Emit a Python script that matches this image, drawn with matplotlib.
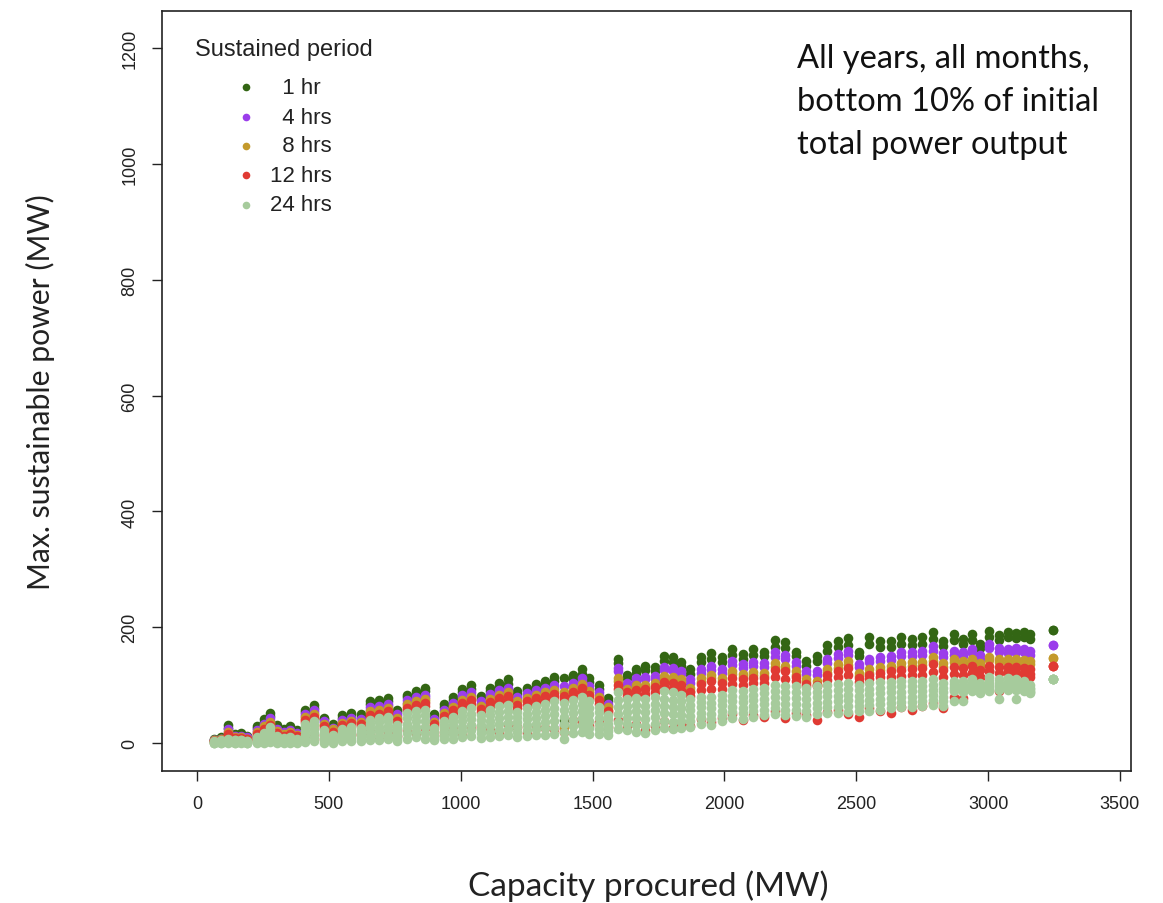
import matplotlib
matplotlib.use("Agg")
import matplotlib.pyplot as plt
from matplotlib.lines import Line2D

# capacity procured (MW), one column of points per value
capacity = [65, 90, 118, 142, 166, 190,
            228, 253, 278, 303, 328, 353, 378,
            410, 445, 480, 515, 550, 585, 620, 655, 690, 725, 760, 795, 830, 865, 900, 935,
            970, 1005, 1040, 1075, 1110, 1145, 1180, 1215, 1250, 1285, 1320, 1355, 1390, 1425, 1460, 1485,
            1525, 1560, 1595, 1630, 1665, 1700, 1735, 1770, 1805, 1835,
            1870, 1910, 1950, 1990, 2030, 2070, 2110, 2150, 2190, 2230, 2270, 2310, 2350, 2390,
            2430, 2470, 2510, 2550, 2590, 2630, 2670, 2710, 2750, 2790, 2830,
            2870, 2905, 2940, 2968,
            3005, 3040, 3075, 3105, 3135, 3160,
            3246]

# max sustainable power (MW), several rows of points per sustained period
hr1_hi = [8, 10, 32, 16, 17, 13,
          30, 41, 52, 31, 24, 29, 22,
          58, 66, 44, 33, 48, 52, 50, 72, 74, 78, 58, 84, 90, 96, 50, 68,
          80, 94, 100, 82, 96, 104, 110, 90, 96, 103, 108, 114, 112, 118, 128, 112,
          100, 78, 146, 118, 128, 134, 132, 150, 148, 140,
          128, 148, 155, 148, 162, 154, 162, 158, 178, 175, 158, 142, 150, 170,
          176, 182, 158, 183, 176, 176, 183, 180, 183, 192, 176,
          188, 180, 188, 172,
          194, 186, 192, 190, 192, 188,
          195]
hr1_lo = [6, 8, 27, 13, 14, 11,
          26, 37, 47, 27, 21, 25, 19,
          54, 61, 41, 30, 44, 48, 46, 67, 69, 73, 54, 79, 85, 90, 46, 63,
          75, 88, 94, 77, 90, 98, 103, 85, 91, 97, 102, 107, 40, 111, 120, 105,
          94, 72, 138, 112, 121, 126, 124, 142, 140, 133,
          120, 140, 146, 140, 152, 146, 152, 150, 166, 164, 150, 134, 142, 160,
          166, 170, 150, 172, 166, 166, 172, 170, 172, 180, 168,
          178, 172, 178, 165,
          184, 178, 184, 182, 184, 180,
          195]
hr4_hi = [6, 8, 24, 12, 13, 10,
          23, 34, 43, 24, 19, 23, 17,
          50, 57, 38, 27, 40, 44, 42, 62, 64, 68, 50, 74, 80, 84, 42, 58,
          70, 83, 88, 72, 85, 92, 96, 80, 86, 92, 96, 100, 98, 104, 112, 98,
          88, 68, 130, 104, 112, 115, 116, 132, 130, 125,
          110, 128, 134, 128, 142, 136, 140, 138, 157, 152, 140, 125, 124, 145,
          154, 160, 137, 145, 148, 150, 157, 158, 159, 168, 156,
          160, 157, 162, 152,
          171, 164, 162, 165, 163, 159,
          170]
hr4_lo = [5, 7, 20, 10, 11, 9,
          20, 30, 39, 21, 17, 20, 15,
          47, 54, 36, 25, 37, 41, 39, 58, 60, 64, 47, 70, 76, 80, 39, 55,
          66, 79, 84, 68, 81, 88, 92, 76, 82, 88, 92, 95, 32, 99, 107, 94,
          84, 64, 124, 99, 107, 110, 111, 126, 124, 119,
          104, 121, 127, 122, 135, 129, 133, 131, 149, 145, 133, 119, 118, 138,
          147, 152, 131, 140, 142, 143, 150, 151, 152, 160, 149,
          153, 150, 155, 146,
          164, 158, 156, 158, 157, 153,
          170]
hr8_hi = [5, 7, 19, 10, 11, 8,
          19, 29, 37, 21, 16, 19, 14,
          45, 51, 34, 24, 35, 39, 37, 55, 57, 61, 44, 67, 72, 76, 37, 52,
          63, 75, 80, 65, 77, 84, 88, 72, 78, 84, 88, 91, 89, 95, 102, 90,
          80, 62, 112, 94, 100, 100, 104, 116, 114, 110,
          96, 112, 118, 113, 125, 120, 123, 122, 138, 134, 124, 110, 108, 128,
          136, 142, 122, 128, 132, 134, 138, 140, 141, 149, 138,
          146, 142, 146, 138,
          149, 146, 145, 146, 144, 142,
          147]
hr8_lo = [4, 6, 16, 8, 9, 7,
          16, 25, 33, 18, 14, 17, 12,
          42, 48, 32, 22, 33, 37, 35, 52, 54, 58, 41, 64, 69, 73, 35, 49,
          60, 72, 77, 62, 74, 81, 84, 69, 75, 81, 84, 88, 28, 91, 98, 87,
          76, 58, 107, 90, 96, 96, 99, 111, 109, 105,
          90, 106, 112, 107, 119, 114, 117, 116, 131, 128, 118, 105, 103, 122,
          130, 135, 116, 122, 126, 128, 132, 134, 135, 142, 132,
          140, 136, 140, 132,
          143, 140, 139, 140, 138, 136,
          147]
hr12_hi = [4, 6, 16, 9, 9, 7,
           16, 25, 32, 18, 13, 16, 12,
           40, 46, 30, 20, 31, 35, 33, 49, 51, 55, 39, 61, 66, 70, 33, 47,
           57, 69, 74, 59, 71, 78, 81, 66, 72, 78, 81, 85, 82, 88, 95, 84,
           74, 56, 100, 88, 92, 93, 97, 106, 104, 100,
           88, 103, 108, 104, 112, 110, 113, 112, 127, 124, 114, 102, 100, 118,
           125, 130, 112, 118, 122, 124, 126, 128, 129, 136, 126,
           132, 130, 133, 126,
           134, 132, 131, 132, 130, 128,
           133]
hr12_mid = [3, 5, 12, 7, 7, 5,
            12, 20, 28, 14, 10, 13, 9,
            37, 42, 26, 17, 28, 31, 30, 45, 48, 51, 36, 57, 61, 64, 30, 43,
            52, 63, 67, 54, 65, 71, 74, 60, 66, 71, 75, 79, 76, 81, 88, 78,
            68, 52, 94, 82, 85, 85, 89, 98, 96, 92,
            82, 92, 94, 94, 102, 100, 104, 104, 114, 111, 107, 99, 99, 109,
            114, 117, 106, 111, 114, 115, 116, 118, 118, 123, 115,
            120, 118, 122, 115,
            124, 121, 122, 121, 119, 114,
            133]
hr12_lo = [2, 3, 8, 4, 5, 3,
           8, 12, 18, 9, 6, 8, 5,
           10, 14, 8, 6, 12, 16, 14, 20, 10, 18, 12, 22, 18, 26, 14, 20,
           24, 18, 30, 26, 22, 20, 34, 28, 18, 30, 26, 24, 20, 40, 36, 30,
           36, 28, 40, 30, 34, 22, 30, 38, 26, 34,
           30, 42, 36, 44, 50, 40, 48, 46, 56, 44, 52, 48, 40, 54,
           58, 50, 46, 60, 56, 52, 62, 58, 64, 70, 60,
           80, 78, 122, 114,
           124, 90, 124, 97, 122, 120,
           133]
hr24_hi = [3, 5, 8, 6, 6, 4,
           10, 18, 28, 13, 9, 11, 8,
           34, 38, 22, 15, 24, 28, 26, 40, 44, 46, 32, 52, 56, 58, 26, 38,
           46, 56, 60, 48, 58, 64, 66, 54, 60, 64, 68, 72, 70, 74, 80, 72,
           62, 48, 88, 76, 78, 76, 80, 90, 88, 84,
           76, 80, 80, 84, 92, 90, 94, 96, 100, 98, 99, 96, 98, 100,
           102, 104, 100, 104, 106, 106, 107, 108, 108, 110, 104,
           108, 107, 110, 104,
           114, 110, 112, 110, 108, 100,
           111]
hr24_m1 = [2, 4, 6, 5, 5, 3,
           8, 14, 22, 10, 7, 9, 6,
           28, 31, 18, 12, 20, 23, 21, 33, 36, 38, 26, 43, 47, 48, 22, 32,
           38, 47, 50, 40, 48, 54, 56, 45, 50, 54, 57, 61, 58, 63, 68, 61,
           53, 41, 75, 65, 66, 64, 68, 77, 75, 72,
           66, 71, 70, 75, 82, 80, 84, 86, 90, 88, 89, 86, 88, 90,
           92, 94, 91, 94, 96, 97, 98, 99, 99, 101, 96,
           102, 101, 104, 99,
           108, 104, 106, 104, 102, 96,
           111]
hr24_m2 = [2, 3, 5, 4, 4, 2,
           6, 11, 17, 8, 5, 7, 5,
           21, 24, 14, 9, 16, 18, 17, 26, 28, 30, 21, 34, 38, 38, 18, 26,
           31, 38, 41, 32, 39, 43, 45, 36, 41, 44, 47, 50, 45, 52, 56, 50,
           44, 34, 62, 54, 55, 53, 57, 64, 62, 61,
           57, 62, 61, 66, 73, 71, 75, 77, 80, 78, 78, 76, 79, 81,
           82, 84, 82, 85, 87, 88, 89, 90, 90, 92, 88,
           97, 96, 99, 94,
           102, 99, 100, 99, 97, 93,
           111]
hr24_m3 = [1, 2, 3, 3, 3, 1,
           4, 8, 12, 6, 4, 5, 3,
           15, 17, 9, 7, 11, 14, 12, 20, 21, 23, 15, 26, 28, 28, 13, 19,
           23, 28, 31, 25, 29, 33, 35, 28, 31, 34, 36, 38, 33, 40, 44, 38,
           34, 28, 50, 44, 43, 41, 45, 52, 50, 49,
           47, 52, 51, 56, 63, 61, 65, 67, 70, 68, 68, 66, 69, 71,
           72, 74, 73, 75, 77, 78, 80, 80, 82, 84, 80,
           93, 92, 95, 90,
           98, 95, 96, 95, 94, 90,
           111]
hr24_m4 = [1, 1, 2, 1, 2, 1,
           2, 4, 6, 3, 2, 3, 2,
           8, 10, 5, 4, 7, 9, 8, 13, 13, 15, 10, 17, 19, 18, 9, 13,
           16, 19, 22, 17, 20, 22, 24, 19, 22, 24, 26, 27, 20, 29, 32, 27,
           25, 21, 37, 33, 32, 30, 34, 39, 37, 38,
           38, 43, 42, 47, 54, 52, 56, 58, 60, 58, 57, 56, 60, 62,
           62, 64, 64, 66, 68, 69, 71, 71, 73, 75, 72,
           90, 89, 92, 88,
           94, 92, 93, 92, 91, 88,
           111]
hr24_lo = [0, 0, 1, 0, 1, 0,
           1, 1, 2, 1, 0, 1, 0,
           2, 3, 1, 1, 3, 4, 3, 6, 5, 7, 4, 8, 10, 8, 5, 7,
           8, 10, 12, 9, 10, 12, 14, 10, 12, 14, 15, 16, 8, 18, 20, 16,
           16, 14, 24, 22, 20, 18, 22, 26, 24, 26,
           28, 34, 32, 38, 44, 42, 46, 48, 50, 48, 47, 46, 50, 52,
           52, 54, 55, 56, 58, 60, 62, 62, 64, 66, 64,
           73, 73, 90, 86,
           90, 76, 92, 76, 90, 86,
           111]

labels = ["  1 hr", "  4 hrs", "  8 hrs", "12 hrs", "24 hrs"]
colors = ["#336614", "#9B3DEB", "#C49A2C", "#E03A33", "#A6CB9C"]
series = [[hr1_hi, hr1_lo], [hr4_hi, hr4_lo], [hr8_hi, hr8_lo],
          [hr12_hi, hr12_mid, hr12_lo],
          [hr24_hi, hr24_m1, hr24_m2, hr24_m3, hr24_m4, hr24_lo]]

W, H = 1163, 904
fig = plt.figure(figsize=(W / 100, H / 100), dpi=100)
ax = fig.add_axes([162 / W, 1 - 772 / H, (1131 - 162) / W, (772 - 12) / H])

for rows, c in zip(series, colors):
    for r in rows:
        ax.scatter(capacity, r, s=48, color=c, linewidths=0, zorder=3)

ax.set_xlim(-133, 3542)
ax.set_ylim(-48, 1264)
ax.set_xticks(range(0, 3501, 500))
ax.set_yticks(range(0, 1201, 200))
tickfont = dict(family=["Liberation Sans", "DejaVu Sans"], size=13)
ax.set_xticklabels([str(v) for v in range(0, 3501, 500)], **tickfont)
ax.set_yticklabels([str(v) for v in range(0, 1201, 200)], rotation=90, va="center", **tickfont)
ax.tick_params(length=7, width=1, pad=10, colors="#222222")
for s in ax.spines.values():
    s.set_linewidth(1.2)
    s.set_color("#222222")

labfont = ["Lato", "DejaVu Sans"]
fig.text(648 / W, 1 - 886 / H, "Capacity procured (MW)", ha="center", va="center",
         fontsize=24, family=labfont, color="#222222")
fig.text(40 / W, 1 - 392 / H, "Max. sustainable power (MW)", ha="center", va="center",
         rotation=90, fontsize=21.7, family=labfont, color="#222222")
fig.text(797 / W, 1 - 44 / H, "All years, all months,\nbottom 10% of initial\ntotal power output",
         ha="left", va="top", fontsize=23.5, family=labfont, color="#111111",
         linespacing=1.55)

# legend
lfont = ["Liberation Sans", "DejaVu Sans"]
fig.text(195 / W, 1 - 50 / H, "Sustained period", ha="left", va="center",
         fontsize=17, family=lfont, color="#222222")
ly = [88, 118, 147, 176, 206]
for lab, c, y in zip(labels, colors, ly):
    fig.add_artist(Line2D([246 / W], [1 - y / H], marker="o", ms=5.5, color=c,
                          markeredgewidth=0, linestyle="none", transform=fig.transFigure))
    fig.text(270 / W, 1 - y / H, lab, ha="left", va="center", fontsize=16,
             family=lfont, color="#222222")

fig.savefig("out.png", dpi=100)
